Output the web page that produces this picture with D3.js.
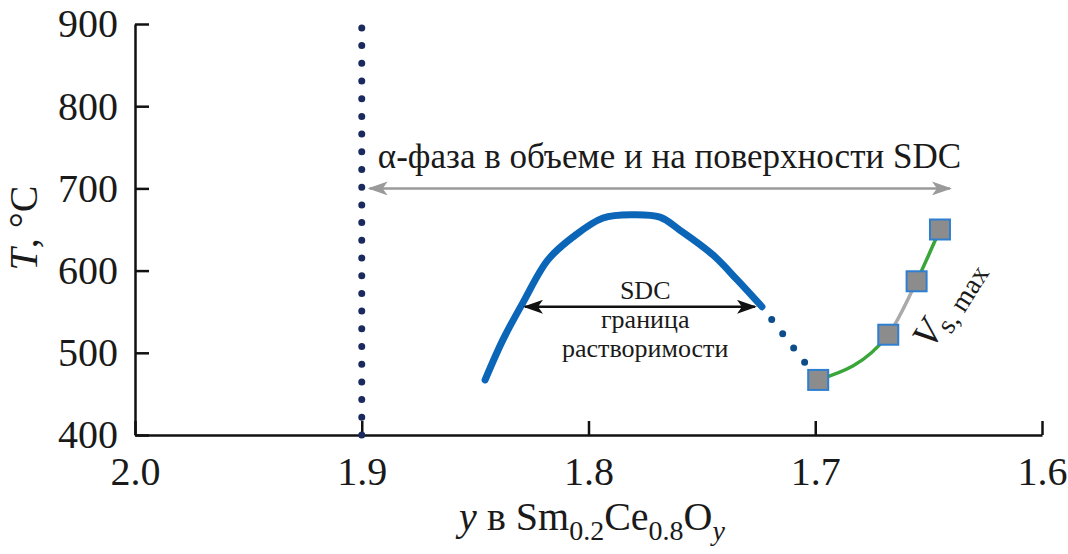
<!DOCTYPE html>
<html>
<head>
<meta charset="utf-8">
<script src="https://cdn.jsdelivr.net/npm/d3@7"></script>
<style>
  body { margin: 0; background: #fff; }
  text { font-family: "Liberation Serif", "Times New Roman", serif; fill: #1a1a1a; }
</style>
</head>
<body>
<div id="chart"></div>
<script>
// Data
const xTicks = [2.0, 1.9, 1.8, 1.7, 1.6];
const yTicks = [400, 500, 600, 700, 800, 900];

// SDC solubility boundary (blue)
const boundY = [1.8456, 1.8377, 1.8289, 1.8179, 1.8068, 1.7936, 1.7804, 1.7685, 1.7596, 1.7451, 1.7345, 1.7235];
const boundT = [467, 516, 561, 613, 641, 664, 668, 665, 649, 619, 589, 556];

// dotted extension of the boundary
const extY = [1.7235, 1.6987];
const extT = [556, 467];

// V s,max points
const vY = [1.6987, 1.6678, 1.6553, 1.645];
const vT = [467, 522, 587, 650];

// dotted vertical line at y = 1.9
const vertY = [1.9, 1.9];
const vertT = [400, 896];

// arrows
const alphaArrowY = [1.8965, 1.6406];
const alphaArrowT = [700, 700];
const sdcArrowY = [1.828, 1.7266];
const sdcArrowT = [556, 556];

const W = 1068, H = 554;
const x = d3.scaleLinear().domain([2.0, 1.6]).range([135, 1042]);
const y = d3.scaleLinear().domain([400, 900]).range([435, 24]);

const svg = d3.select("#chart").append("svg")
  .attr("width", W).attr("height", H);

const defs = svg.append("defs");
function arrowMarker(id, color, orient) {
  defs.append("marker")
    .attr("id", id)
    .attr("viewBox", "0 0 20 14")
    .attr("refX", 18).attr("refY", 7)
    .attr("markerWidth", 20).attr("markerHeight", 14)
    .attr("markerUnits", "userSpaceOnUse")
    .attr("orient", orient)
    .append("path")
    .attr("d", "M0,0 L20,7 L0,14 L5,7 Z")
    .attr("fill", color);
}
arrowMarker("grayEnd", "#9a9a9a", "auto");
arrowMarker("grayStart", "#9a9a9a", "auto-start-reverse");
arrowMarker("blackEnd", "#111", "auto");
arrowMarker("blackStart", "#111", "auto-start-reverse");

// Axes
const xAxis = d3.axisBottom(x).tickValues(xTicks)
  .tickFormat(d3.format(".1f")).tickSizeInner(-14).tickSizeOuter(0).tickPadding(22);
const gx = svg.append("g").attr("transform", "translate(0," + y(400) + ")").call(xAxis);

const yAxis = d3.axisLeft(y).tickValues(yTicks)
  .tickFormat(d3.format("d")).tickSizeInner(-14).tickSizeOuter(0).tickPadding(17);
const gy = svg.append("g").attr("transform", "translate(" + x(2.0) + ",0)").call(yAxis);

[gx, gy].forEach(function(g) {
  g.select(".domain").attr("stroke", "#111").attr("stroke-width", 2.5);
  g.selectAll(".tick line").attr("stroke", "#111").attr("stroke-width", 2.5);
  g.selectAll(".tick text")
    .style("font-family", "'Liberation Serif', serif")
    .style("font-size", "40px").attr("fill", "#1a1a1a");
});

// Axis titles
svg.append("text")
  .attr("transform", "translate(37,228) rotate(-90)")
  .attr("text-anchor", "middle")
  .style("font-size", "40px")
  .call(function(t) {
    t.append("tspan").style("font-style", "italic").text("T");
    t.append("tspan").text(", °C");
  });

const xt = svg.append("text")
  .attr("x", 592).attr("y", 530)
  .attr("text-anchor", "middle")
  .style("font-size", "40px");
xt.append("tspan").style("font-style", "italic").text("y");
xt.append("tspan").text(" в Sm");
xt.append("tspan").attr("dy", 10).style("font-size", "28px").text("0.2");
xt.append("tspan").attr("dy", -10).text("Ce");
xt.append("tspan").attr("dy", 10).style("font-size", "28px").text("0.8");
xt.append("tspan").attr("dy", -10).text("O");
xt.append("tspan").attr("dy", 10).style("font-size", "28px").style("font-style", "italic").text("y");

const line = d3.line().x(function(d) { return x(d[0]); }).y(function(d) { return y(d[1]); });

// dotted vertical line
svg.append("path")
  .datum(d3.zip(vertY, vertT))
  .attr("d", line)
  .attr("stroke", "#1b2a5e").attr("stroke-width", 7)
  .attr("stroke-linecap", "round")
  .attr("stroke-dasharray", "0 17.7")
  .attr("fill", "none");

// gray alpha-phase arrow
svg.append("path")
  .datum(d3.zip(alphaArrowY, alphaArrowT))
  .attr("d", line)
  .attr("stroke", "#9a9a9a").attr("stroke-width", 2.5)
  .attr("marker-start", "url(#grayStart)")
  .attr("marker-end", "url(#grayEnd)");

svg.append("text")
  .attr("x", x(1.8929)).attr("y", y(725))
  .style("font-size", "35px")
  .text("α-фаза в объеме и на поверхности SDC");

// blue boundary
svg.append("path")
  .datum(d3.zip(boundY, boundT))
  .attr("d", line.curve(d3.curveCatmullRom))
  .attr("stroke", "#0b66b8").attr("stroke-width", 7)
  .attr("stroke-linecap", "round").attr("stroke-linejoin", "round")
  .attr("fill", "none");

// dotted extension
svg.append("path")
  .datum(d3.zip(extY, extT))
  .attr("d", line.curve(d3.curveLinear))
  .attr("stroke", "#0d4e8a").attr("stroke-width", 7)
  .attr("stroke-linecap", "round")
  .attr("stroke-dasharray", "0 18").attr("stroke-dashoffset", -16)
  .attr("fill", "none");

// black SDC arrow
svg.append("path")
  .datum(d3.zip(sdcArrowY, sdcArrowT))
  .attr("d", line)
  .attr("stroke", "#111").attr("stroke-width", 2.5)
  .attr("marker-start", "url(#blackStart)")
  .attr("marker-end", "url(#blackEnd)");

const sdcLabels = ["SDC", "граница", "растворимости"];
const sdcLabelT = [566, 530, 495];
svg.selectAll(".sdc").data(sdcLabels).enter().append("text")
  .attr("class", "sdc")
  .attr("x", x(1.775))
  .attr("y", function(d, i) { return y(sdcLabelT[i]); })
  .attr("text-anchor", "middle")
  .style("font-size", "26px")
  .text(function(d) { return d; });

// V s,max line: green outside middle segment, gray in the middle
const vPts = d3.zip(vY, vT);
const vPath = line.curve(d3.curveMonotoneX)(vPts);
defs.append("clipPath").attr("id", "midClip").append("rect")
  .attr("x", x(vY[1])).attr("y", 0)
  .attr("width", x(vY[2]) - x(vY[1])).attr("height", H);
defs.append("clipPath").attr("id", "leftClip").append("rect")
  .attr("x", 0).attr("y", 0).attr("width", x(vY[1])).attr("height", H);
defs.append("clipPath").attr("id", "rightClip").append("rect")
  .attr("x", x(vY[2])).attr("y", 0).attr("width", W).attr("height", H);

svg.append("path").attr("d", vPath).attr("clip-path", "url(#leftClip)")
  .attr("stroke", "#3aa63a").attr("stroke-width", 3.5).attr("fill", "none");
svg.append("path").attr("d", vPath).attr("clip-path", "url(#rightClip)")
  .attr("stroke", "#3aa63a").attr("stroke-width", 3.5).attr("fill", "none");
svg.append("path").attr("d", vPath).attr("clip-path", "url(#midClip)")
  .attr("stroke", "#aaaaaa").attr("stroke-width", 3.5).attr("fill", "none");

const sq = 20;
svg.selectAll(".sq").data(vPts).enter().append("rect")
  .attr("class", "sq")
  .attr("x", function(d) { return x(d[0]) - sq / 2; })
  .attr("y", function(d) { return y(d[1]) - sq / 2; })
  .attr("width", sq).attr("height", sq)
  .attr("fill", "#8c8c8c")
  .attr("stroke", "#2f7fd0").attr("stroke-width", 2);

// V s,max label
const vl = svg.append("text")
  .attr("transform", "translate(" + x(1.6485) + "," + y(503) + ") rotate(-58)")
  .style("font-size", "38px");
vl.append("tspan").style("font-style", "italic").text("V");
vl.append("tspan").attr("dy", 8).style("font-size", "28px").text("s, max");
</script>
</body>
</html>
